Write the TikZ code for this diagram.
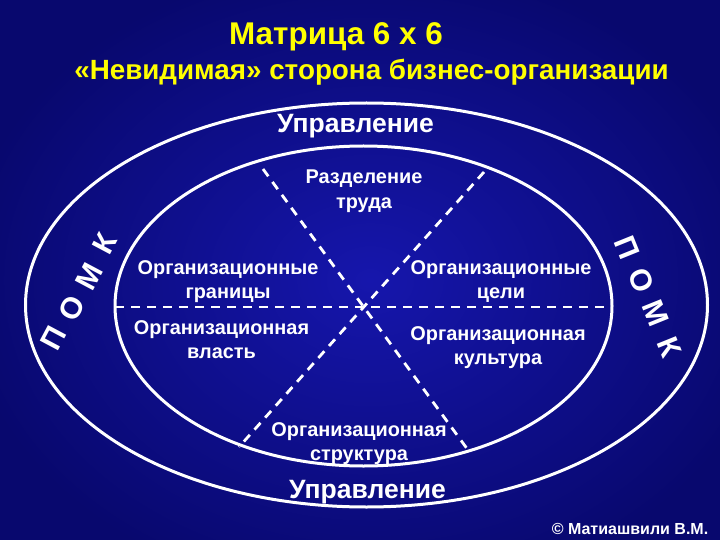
\documentclass[tikz,border=0pt]{standalone}
\usepackage{fontspec}
\setmainfont{Liberation Sans}
\usetikzlibrary{positioning}
\definecolor{slideyellow}{RGB}{255,255,0}
\definecolor{navyedge}{RGB}{8,8,110}
\definecolor{navycenter}{RGB}{22,22,172}

\begin{document}
\begin{tikzpicture}[x=1pt,y=-1pt,
    ring/.style={draw=white,line width=3pt},
    divider/.style={draw=white,line width=2.8pt,dash pattern=on 9pt off 7pt},
    headline/.style={text=slideyellow,font=\bfseries\fontsize{31.4}{36}\selectfont,inner sep=0pt},
    subheadline/.style={text=slideyellow,font=\bfseries\fontsize{27.8}{32}\selectfont,inner sep=0pt},
    manage/.style={text=white,font=\bfseries\fontsize{26.5}{30}\selectfont,inner sep=0pt},
    sector/.style={text=white,font=\bfseries\fontsize{19.9}{24.5}\selectfont,align=center,inner sep=0pt},
    ringletter/.style={text=white,font=\bfseries\fontsize{30}{34}\selectfont,inner sep=0pt},
    credit/.style={text=white,font=\bfseries\fontsize{16}{19}\selectfont,inner sep=0pt}]
        % Background
        \useasboundingbox (0,0) rectangle (720,540);
        \shade[inner color=navycenter,outer color=navyedge] (-40,-40) rectangle (780,600);

        % Title
        \node[headline,anchor=base] (title) at (336,45) {Матрица 6 х 6};
        \node[subheadline,anchor=base] (subtitle) at (371.5,80) {«Невидимая» сторона бизнес-организации};

        % Rings
        \draw[ring] (366.5,305) ellipse [x radius=341pt,y radius=202pt];
        \draw[ring] (363.5,306) ellipse [x radius=248.5pt,y radius=160pt];

        % Dividers
        \coordinate (westend) at (115,307);
        \coordinate (eastend) at (612,307);
        \coordinate (nwend) at (263,169);
        \coordinate (seend) at (468,450);
        \coordinate (neend) at (484,172);
        \coordinate (swend) at (239,447);
        \draw[divider] (westend) -- (eastend);
        \draw[divider] (nwend) -- (seend);
        \draw[divider] (neend) -- (swend);

        % Sectors
        \node[sector] (labour) at (364,191) {Разделение\\труда};
        \node[sector] (bounds) at (228,281.5) {Организационные\\границы};
        \node[sector] (goals) at (501,281.5) {Организационные\\цели};
        \node[sector] (power) at (221.5,339.5) {Организационная\\власть};
        \node[sector] (culture) at (498,347.5) {Организационная\\культура};
        \node[sector] (structure) at (359,443.5) {Организационная\\структура};

        % Outer ring labels
        \node[manage,anchor=base] (managetop) at (355.5,133) {Управление};
        \node[manage,anchor=base] (managebottom) at (367.5,498) {Управление};
        \foreach \letter/\px/\py [count=\i] in {П/53/338, О/72/308, М/89/277, К/105/244}
            \node[ringletter,rotate=62] (leftmark\i) at (\px,\py) {\letter};
        \foreach \letter/\px/\py [count=\i] in {П/627/248, О/641/280, М/656/313, К/669/347}
            \node[ringletter,rotate=-68] (rightmark\i) at (\px,\py) {\letter};

        % Credit
        \node[credit,anchor=base] (credit) at (630,534) {© Матиашвили В.М.};
    \end{tikzpicture}
\end{document}
